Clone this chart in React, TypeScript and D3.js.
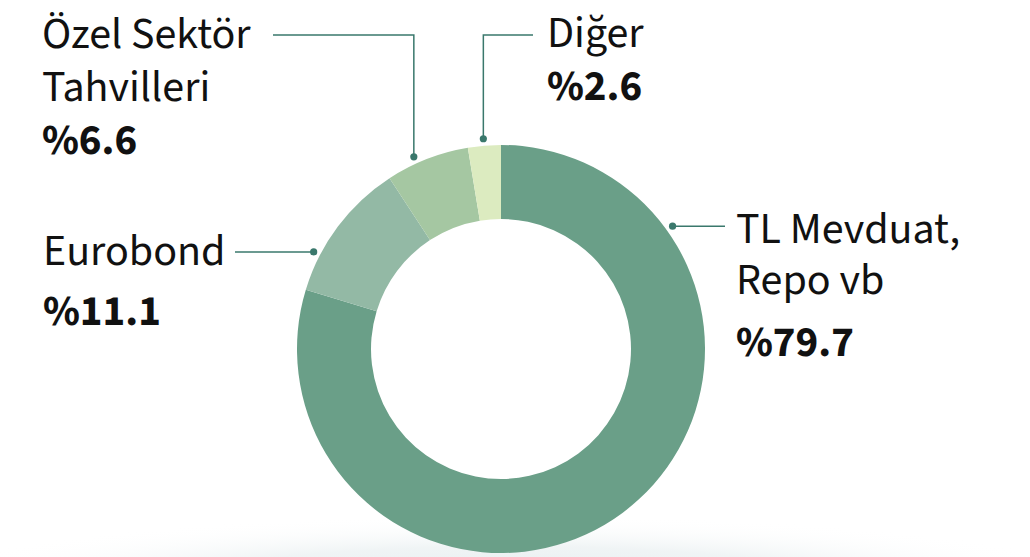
import React from "react";
import * as d3 from "d3";

const categories = ["TL Mevduat, Repo vb", "Eurobond", "Özel Sektör Tahvilleri", "Diğer"];
const values = [79.7, 11.1, 6.6, 2.6];
const percentLabels = ["%79.7", "%11.1", "%6.6", "%2.6"];
const nameLines = [["TL Mevduat,", "Repo vb"], ["Eurobond"], ["Özel Sektör", "Tahvilleri"], ["Diğer"]];
const colors = ["#6a9f88", "#93b9a5", "#a5c7a2", "#dcebc0"];

const W = 1030;
const H = 557;
const cx = 501;
const cy = 349;
const outerR = 204;
const innerR = 130;
const FONT = "'Source Sans Pro', 'Source Sans 3', Lato, 'Open Sans', sans-serif";
const LEAD = "#3a786c";

export default function App() {
  const pie = d3.pie<number>().sort(null).value((d) => d);
  const arcs = pie(values);
  const arcGen = d3.arc<d3.PieArcDatum<number>>().innerRadius(innerR).outerRadius(outerR);

  const dotR = 211;
  const dotAngleDeg = [54.4, 297.4, 335.6, 355.2];
  const dots = dotAngleDeg.map((a) => {
    const r = (a * Math.PI) / 180;
    return [cx + dotR * Math.sin(r), cy - dotR * Math.cos(r)];
  });

  const fs = 44;
  const fsB = 43;
  const labelPos = [
    { x: 736, y: 243, lh: 51, pctGap: 62, line: (d: number[]) => `M${d[0]},${d[1]}H725` },
    { x: 43, y: 265, lh: 52, pctGap: 60, line: (d: number[]) => `M${d[0]},${d[1]}H235` },
    { x: 42, y: 48, lh: 52.5, pctGap: 53, line: (d: number[]) => `M${d[0]},${d[1]}V35H273` },
    { x: 547, y: 47, lh: 53, pctGap: 53, line: (d: number[]) => `M${d[0]},${d[1]}V35H533` },
  ];

  return (
    <svg width={W} height={H} style={{ position: "absolute", left: 0, top: 0, background: "#fff" }}>
      <defs>
        <radialGradient id="shadow" cx="0.5" cy="0.5" r="0.5">
          <stop offset="0" stopColor="#e4ecee" stopOpacity={1} />
          <stop offset="0.55" stopColor="#eef3f4" stopOpacity={0.9} />
          <stop offset="1" stopColor="#ffffff" stopOpacity={0} />
        </radialGradient>
      </defs>
      <ellipse cx={510} cy={585} rx={600} ry={70} fill="url(#shadow)" />
      <g transform={`translate(${cx},${cy})`}>
        {arcs.map((a, i) => (
          <path key={i} d={arcGen(a) || ""} fill={colors[i]} />
        ))}
      </g>
      {dots.map((d, i) => (
        <g key={i}>
          <path d={labelPos[i].line(d)} fill="none" stroke={LEAD} strokeWidth={1.5} />
          <circle cx={d[0]} cy={d[1]} r={3.6} fill={LEAD} />
        </g>
      ))}
      {categories.map((c, i) => {
        const p = labelPos[i];
        const lines = nameLines[i];
        const lastY = p.y + (lines.length - 1) * p.lh;
        return (
          <g key={c} fontFamily={FONT} fill="#111">
            {lines.map((l, j) => (
              <text key={j} x={p.x} y={p.y + j * p.lh} fontSize={fs}>
                {l}
              </text>
            ))}
            <text x={p.x} y={lastY + p.pctGap} fontSize={fsB} fontWeight={700}>
              {percentLabels[i]}
            </text>
          </g>
        );
      })}
    </svg>
  );
}
